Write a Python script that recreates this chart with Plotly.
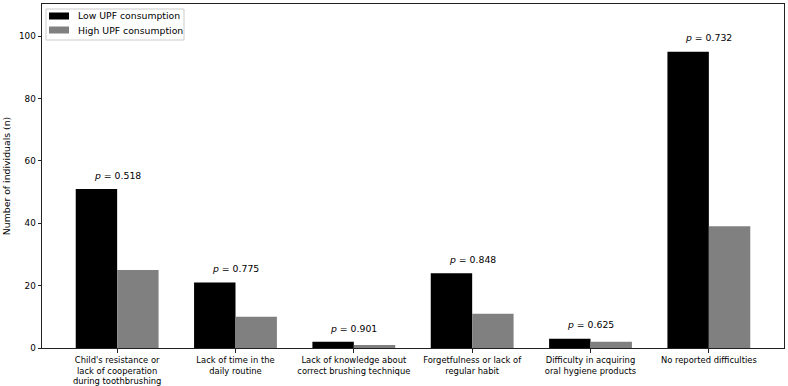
import plotly.graph_objects as go

categories = [
    "Child's resistance or<br>lack of cooperation<br>during toothbrushing",
    "Lack of time in the<br>daily routine",
    "Lack of knowledge about<br>correct brushing technique",
    "Forgetfulness or lack of<br>regular habit",
    "Difficulty in acquiring<br>oral hygiene products",
    "No reported difficulties",
]
low_upf = [51, 21, 2, 24, 3, 95]
high_upf = [25, 10, 1, 11, 2, 39]
p_values = ["0.518", "0.775", "0.901", "0.848", "0.625", "0.732"]
series_names = ["Low UPF consumption", "High UPF consumption"]
series_colors = ["black", "#808080"]

x = list(range(len(categories)))
w = 0.35
FONT = "DejaVu Sans"
W, H = 788, 386
ML, MR, MT, MB = 42, 4, 4, 38
PW, PH = W - ML - MR, H - MT - MB


def px_x(p):
    return (p - ML) / PW


def px_y(p):
    return 1 - (p - MT) / PH


fig = go.Figure()
for k, vals in enumerate([low_upf, high_upf]):
    off = -w / 2 if k == 0 else w / 2
    fig.add_trace(go.Bar(x=[i + off for i in x], y=vals, width=w, name=series_names[k],
                         marker=dict(color=series_colors[k], line=dict(width=0)),
                         showlegend=False))

for i, p in enumerate(p_values):
    top = max(low_upf[i], high_upf[i])
    fig.add_annotation(x=i, y=top + 2, text=f"<i>p</i> = {p}", showarrow=False,
                       yanchor="bottom", font=dict(family=FONT, size=9.3, color="black"))

# custom legend (matplotlib-style)
shapes = [dict(type="rect", xref="paper", yref="paper", x0=px_x(46), x1=px_x(184),
               y0=px_y(40), y1=px_y(9), line=dict(color="#cccccc", width=1),
               fillcolor="rgba(255,255,255,0.8)", layer="above")]
for k, name in enumerate(series_names):
    cy = 16 + 14 * k
    shapes.append(dict(type="rect", xref="paper", yref="paper", x0=px_x(49), x1=px_x(69),
                       y0=px_y(cy + 3.5), y1=px_y(cy - 3.5), line=dict(width=0),
                       fillcolor=series_colors[k], layer="above"))
    fig.add_annotation(xref="paper", yref="paper", x=px_x(76), y=px_y(cy), text=name,
                       showarrow=False, xanchor="left", yanchor="middle",
                       font=dict(family=FONT, size=9.3, color="black"))

fig.update_layout(
    width=W, height=H,
    margin=dict(l=ML, r=MR, t=MT, b=MB),
    plot_bgcolor="white", paper_bgcolor="white",
    barmode="overlay",
    font=dict(family=FONT, size=9.3, color="black"),
    showlegend=False,
    shapes=shapes,
)
fig.update_xaxes(
    range=[-0.635, 5.635], tickmode="array", tickvals=x, ticktext=categories,
    ticks="outside", ticklen=3.5, tickcolor="#222", showline=True, linecolor="#222",
    mirror=True, showgrid=False, zeroline=False, tickfont=dict(size=8.4, family=FONT),
    tickangle=0, automargin=False,
)
fig.update_yaxes(
    range=[0, 110.3], tickvals=[0, 20, 40, 60, 80, 100], ticks="outside", ticklen=3.5,
    tickcolor="#222", showline=True, linecolor="#222", mirror=True, showgrid=False,
    zeroline=False, automargin=False,
    title=dict(text="Number of individuals (n)", font=dict(size=9.3, family=FONT), standoff=6),
    tickfont=dict(size=8.8, family=FONT),
)

fig.write_html("out.html")
